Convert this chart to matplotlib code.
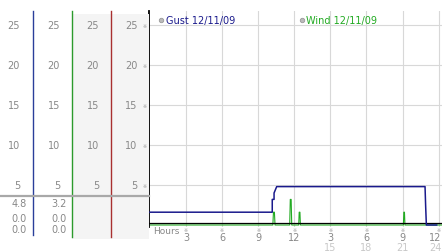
import matplotlib
matplotlib.use("Agg")
import matplotlib.pyplot as plt
from matplotlib.transforms import blended_transform_factory as btf, offset_copy

# ---- data ----
y_ticks = [5, 10, 15, 20, 25]
hour_ticks = [3, 6, 9, 12, 15, 18, 21, 24]
hour_labels = ["3", "6", "9", "12", "3", "6", "9", "12"]
pm_ticks = [15, 18, 21, 24]
pm_labels = ["15", "18", "21", "24"]

gust_t = [0.0, 10.17, 10.17, 10.32, 10.32, 10.54, 22.87, 22.92, 22.98, 23.84]
gust_v = [1.6, 1.6, 3.2, 3.2, 4.0, 4.8, 4.8, 2.4, 0.0, 0.0]

wind_t = [0.0, 10.22, 10.27, 10.35, 10.40, 11.62, 11.67, 11.74, 11.79,
          12.37, 12.41, 12.47, 12.51, 21.07, 21.11, 21.16, 21.20, 24.28]
wind_v = [0, 0, 1.6, 1.6, 0, 0, 3.2, 3.2, 0,
          0, 1.6, 1.6, 0, 0, 1.6, 1.6, 0, 0]

gust_summary = ["4.8", "0.0", "0.0"]
wind_summary = ["3.2", "0.0", "0.0"]
gust_label = "Gust 12/11/09"
wind_label = "Wind 12/11/09"

# ---- layout ----
W, H = 442, 253
fig = plt.figure(figsize=(W / 100, H / 100), dpi=100)
fig.patch.set_facecolor("white")

ax_left, ax_right, ax_top, ax_bot = 149, 442, 12, 228
ax = fig.add_axes([ax_left / W, (H - ax_bot) / H, (ax_right - ax_left) / W,
                   (ax_bot - ax_top) / H], zorder=1)
ax.set_xlim(-0.075, 24.28)
ax.set_ylim(-0.25, 26.75)
ax.set_facecolor("white")
for s in ["top", "right", "bottom"]:
    ax.spines[s].set_visible(False)
ax.spines["left"].set_color("black")
ax.spines["left"].set_linewidth(1.3)
ax.set_xticks([])
ax.set_yticks([])

GRID = "#d8d8d8"
for v in y_ticks:
    ax.axhline(v, color=GRID, lw=0.8, zorder=0)
for h in hour_ticks:
    ax.axvline(h, color=GRID, lw=0.8, zorder=0)

ax.plot(wind_t, wind_v, color="#22aa22", lw=0.8, zorder=2, clip_on=False)
ax.axhline(0.2, color="black", lw=0.9, zorder=3)
ax.plot(gust_t, gust_v, color="#1a1a8c", lw=1.1, zorder=4)

# overlay axes in pixel coordinates (transparent, on top)
pix = fig.add_axes([0, 0, 1, 1], zorder=2)
pix.set_xlim(0, W)
pix.set_ylim(H, 0)
pix.axis("off")

ty = btf(pix.transData, ax.transData)
tx = btf(ax.transData, pix.transData)

# ---- left panel ----
pix.add_patch(plt.Rectangle((72, 15), 77, 225, color="#f4f4f4", lw=0, zorder=0))
pix.plot([33, 33], [12, 236], color="#2a3f9a", lw=1.0, zorder=2)
pix.plot([72, 72], [12, 238], color="#2c9a2c", lw=1.0, zorder=2)
pix.plot([111, 111], [12, 238], color="#a83030", lw=1.0, zorder=2)
pix.plot([0, 149], [196.7, 196.7], color="#a8a8a8", lw=1.6, zorder=3)

LAB = "#888888"
FS = 7
for right_x in [20, 60, 99, 137.5]:
    for v in y_ticks:
        pix.text(right_x, v, str(v), transform=ty, ha="right", va="center",
                 fontsize=FS, color=LAB)
for v in y_ticks:
    pix.text(145, v, "\u203b", transform=ty, ha="center", va="center",
             fontsize=3.5, color="#999999")

for i, yp in enumerate([204, 219, 230.5]):
    pix.text(27, yp, gust_summary[i], ha="right", va="center", fontsize=FS, color=LAB)
    pix.text(67, yp, wind_summary[i], ha="right", va="center", fontsize=FS, color=LAB)

# ---- x tick labels ----
pix.text(153, 231.5, "Hours", ha="left", va="center", fontsize=6.5, color=LAB)
for h, lab in zip(hour_ticks, hour_labels):
    t = tx if h < 24 else offset_copy(tx, fig=fig, x=-3.5, units="dots")
    pix.text(h, 231, "\u203b", transform=tx, ha="center", va="center",
             fontsize=3.5, color="#999999")
    pix.text(h, 238.5, lab, transform=t, ha="center", va="center",
             fontsize=FS, color=LAB)
for h, lab in zip(pm_ticks, pm_labels):
    t = tx if h < 24 else offset_copy(tx, fig=fig, x=-3.5, units="dots")
    pix.text(h, 248.5, lab, transform=t, ha="center", va="center",
             fontsize=FS, color="#c8c8c8")

# ---- legend ----
pix.plot([160.7], [20.7], "o", ms=3.2, mfc="#bbbbbb", mec="#999999", mew=0.6, zorder=5)
pix.text(165.5, 20.7, gust_label, ha="left", va="center", fontsize=FS, color="#1a1a8c", zorder=5)
pix.plot([301.7], [20.7], "o", ms=3.2, mfc="#bbbbbb", mec="#999999", mew=0.6, zorder=5)
pix.text(306.5, 20.7, wind_label, ha="left", va="center", fontsize=FS, color="#22aa22", zorder=5)

fig.savefig("out.png", dpi=100)
